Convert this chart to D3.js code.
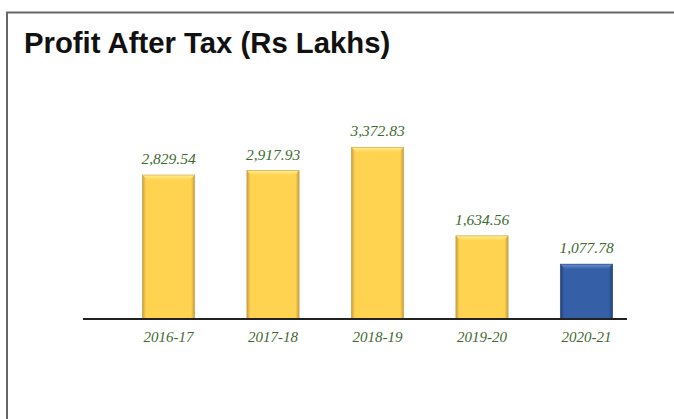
<!DOCTYPE html>
<html>
<head>
<meta charset="utf-8">
<script src="https://cdn.jsdelivr.net/npm/d3@7"></script>
<style>
html,body{margin:0;padding:0;background:#fff;}
svg{display:block;}
</style>
</head>
<body>
<script>
const categories = ["2016-17", "2017-18", "2018-19", "2019-20", "2020-21"];
const values = [2829.54, 2917.93, 3372.83, 1634.56, 1077.78];
const valueLabels = ["2,829.54", "2,917.93", "3,372.83", "1,634.56", "1,077.78"];
const highlight = [false, false, false, false, true];
const title = "Profit After Tax (Rs Lakhs)";

const W = 674, H = 419;
const svg = d3.select("body").append("svg").attr("width", W).attr("height", H);

const defs = svg.append("defs");
function makeGrad(id, edge, mid) {
  const g = defs.append("linearGradient").attr("id", id).attr("x1", "0").attr("x2", "1").attr("y1", "0").attr("y2", "0");
  g.append("stop").attr("offset", "0").attr("stop-color", edge);
  g.append("stop").attr("offset", "0.07").attr("stop-color", mid);
  g.append("stop").attr("offset", "0.93").attr("stop-color", mid);
  g.append("stop").attr("offset", "1").attr("stop-color", edge);
}
makeGrad("gy", "#C9A040", "#FFD250");
makeGrad("gb", "#1F3F78", "#3560A8");
function makeTop(id, light, mid) {
  const g = defs.append("linearGradient").attr("id", id).attr("x1", "0").attr("x2", "0").attr("y1", "0").attr("y2", "1");
  g.append("stop").attr("offset", "0").attr("stop-color", light);
  g.append("stop").attr("offset", "1").attr("stop-color", mid);
}
makeTop("ty", "#FFEE90", "#FFD250");
makeTop("tb", "#6E8FD0", "#3560A8");

// frame
svg.append("path").attr("d", `M7,${H} L7,12.5 L${W},12.5`)
  .attr("fill", "none").attr("stroke", "#666").attr("stroke-width", 2);

// title
svg.append("text").attr("x", 24).attr("y", 53)
  .attr("font-family", "Liberation Sans, Arial, sans-serif")
  .attr("font-weight", "bold").attr("font-size", 29.3).attr("fill", "#111")
  .text(title);

const x = d3.scaleBand().domain(categories).range([116.25, 638.75])
  .paddingInner(0.5).paddingOuter(0.25);
const y = d3.scaleLinear().domain([0, 4000]).range([319, 319 - 4000 * 0.05089]);

const bars = svg.append("g");
categories.forEach((c, i) => {
  const x0 = x(c), bw = x.bandwidth(), y0 = y(values[i]), h = y(0) - y0;
  const hi = highlight[i];
  bars.append("rect").attr("x", x0).attr("y", y0).attr("width", bw).attr("height", h)
    .attr("fill", hi ? "url(#gb)" : "url(#gy)");
  const b = 5;
  bars.append("path")
    .attr("d", `M${x0},${y0} L${x0 + bw},${y0} L${x0 + bw - b},${y0 + b} L${x0 + b},${y0 + b} Z`)
    .attr("fill", hi ? "url(#tb)" : "url(#ty)");
  bars.append("rect").attr("x", x0).attr("y", y0).attr("width", bw).attr("height", h)
    .attr("fill", "none").attr("stroke", hi ? "#1E3A70" : "#C49A3A").attr("stroke-width", 0.8).attr("opacity", 0.7);
  svg.append("text").attr("x", x0 + bw / 2).attr("y", y0 - 11)
    .attr("text-anchor", "middle")
    .attr("font-family", "Liberation Serif, Times New Roman, serif")
    .attr("font-style", "italic").attr("font-size", 15.5).attr("fill", "#3E6A2E")
    .text(valueLabels[i]);
});

// axis line
svg.append("line").attr("x1", 83).attr("x2", 627).attr("y1", 319).attr("y2", 319)
  .attr("stroke", "#222").attr("stroke-width", 2.2);

// category labels
const xAxis = d3.axisBottom(x).tickSize(0).tickPadding(0);
const ax = svg.append("g").attr("transform", "translate(0,330)").call(xAxis);
ax.select(".domain").remove();
ax.selectAll("text")
  .attr("dy", "0.8em")
  .attr("font-family", "Liberation Serif, Times New Roman, serif")
  .attr("font-style", "italic").attr("font-size", 15).attr("fill", "#3E6A2E");
</script>
</body>
</html>
